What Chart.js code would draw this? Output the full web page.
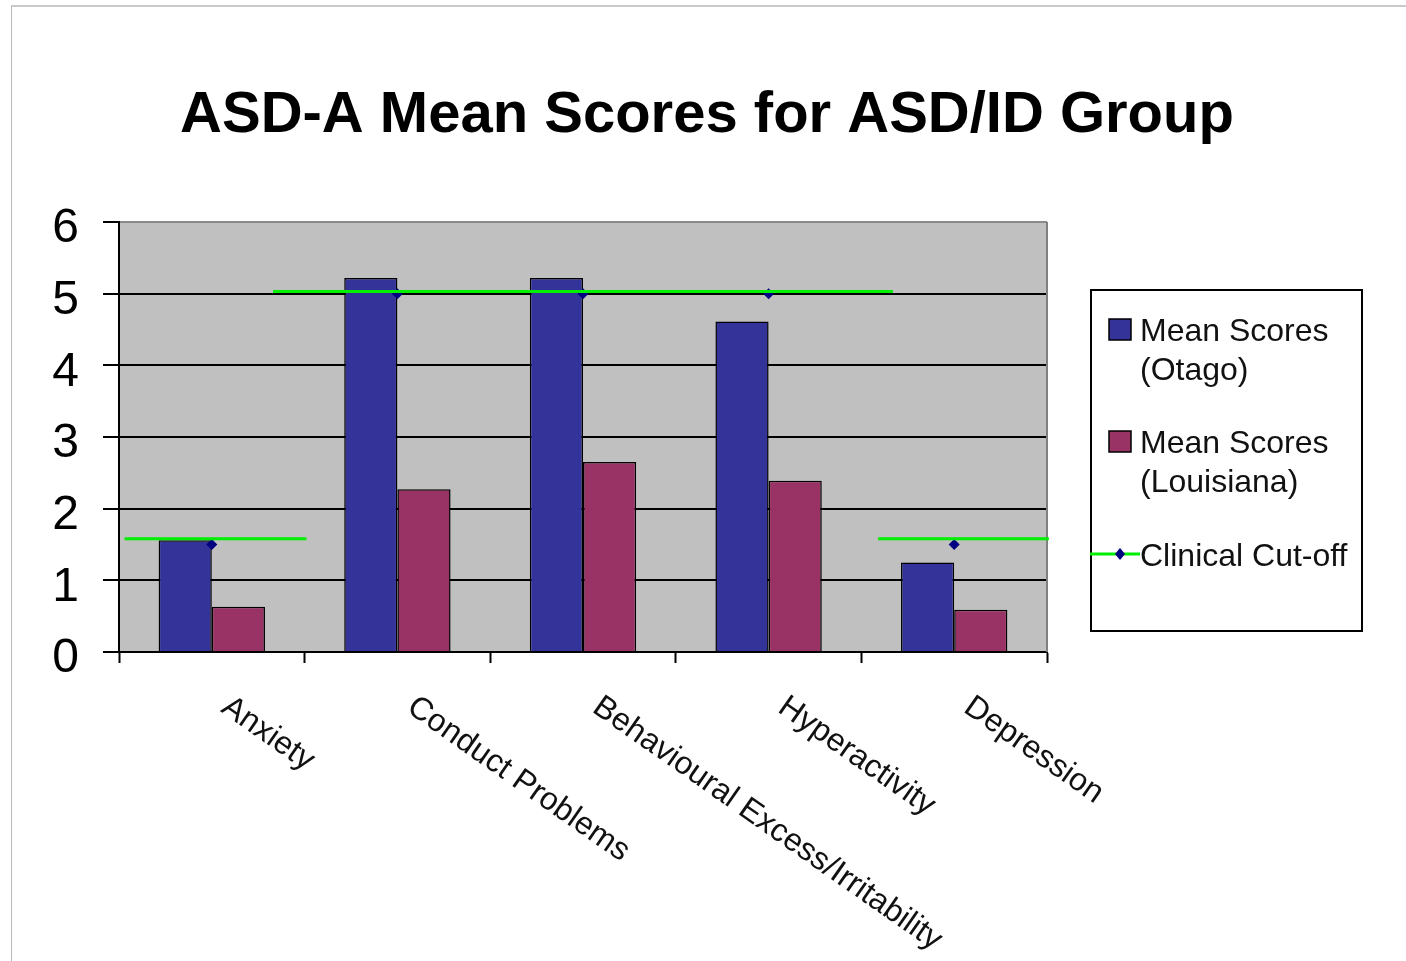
<!DOCTYPE html>
<html>
<head>
<meta charset="utf-8">
<script src="https://cdn.jsdelivr.net/npm/chart.js@4/dist/chart.umd.min.js"></script>
<style>
  html, body { margin: 0; padding: 0; background: #fff; }
  #frame { position: absolute; left: 11px; top: 5px; width: 1400px; height: 960px;
           border-left: 1px solid #b9b9b9; border-top: 2px solid #cacaca; }
  #wrap { position: absolute; left: 0; top: 0; width: 1406px; height: 961px; }
</style>
</head>
<body>
<div id="frame"></div>
<div id="wrap"><canvas id="c" width="1406" height="961"></canvas></div>
<script>
// ---- data ----
const chartTitle = 'ASD-A Mean Scores for ASD/ID Group';
const categories = ['Anxiety', 'Conduct Problems', 'Behavioural Excess/Irritability', 'Hyperactivity', 'Depression'];
const otagoScores = [1.56, 5.22, 5.22, 4.61, 1.25];
const louisianaScores = [0.63, 2.27, 2.65, 2.39, 0.59];
const cutoffScores = [1.5, 5, 5, 5, 1.5];
const yTickValues = [0, 1, 2, 3, 4, 5, 6];
const seriesNames = ['Mean Scores (Otago)', 'Mean Scores (Louisiana)', 'Clinical Cut-off'];
const legendLines = [['Mean Scores', '(Otago)'], ['Mean Scores', '(Louisiana)'], ['Clinical Cut-off']];
// green cut-off guide lines (category-index range and value)
const guideFrom = [-0.47, 0.33, 3.59];
const guideTo = [0.51, 3.67, 4.51];
const guideValue = [1.58, 5.03, 1.58];

const FONT = "'Liberation Sans', Arial, sans-serif";
const NAVY = '#333399', MAROON = '#993366', GREEN = '#00ee00', DIAMOND = '#000080';

const styling = {
  id: 'styling',
  beforeDraw(chart) {
    const { ctx, chartArea: a } = chart;
    ctx.save();
    ctx.fillStyle = '#c0c0c0';
    ctx.fillRect(a.left, a.top, a.right - a.left, a.bottom - a.top);
    ctx.restore();
  },
  beforeDatasetsDraw(chart) {
    const { ctx, chartArea: a } = chart;
    ctx.save();
    ctx.strokeStyle = '#808080';
    ctx.lineWidth = 2;
    ctx.beginPath();
    ctx.moveTo(a.right, a.top);
    ctx.lineTo(a.right, a.bottom);
    ctx.stroke();
    ctx.restore();
  },
  afterDatasetsDraw(chart) {
    const { ctx } = chart;
    const xs = chart.scales.x, ys = chart.scales.y;
    ctx.save();
    ctx.strokeStyle = GREEN;
    ctx.lineWidth = 3;
    for (let i = 0; i < guideValue.length; i++) {
      const y = ys.getPixelForValue(guideValue[i]);
      ctx.beginPath();
      ctx.moveTo(xs.getPixelForValue(guideFrom[i]), y);
      ctx.lineTo(xs.getPixelForValue(guideTo[i]), y);
      ctx.stroke();
    }
    ctx.restore();
  },
  afterDraw(chart) {
    const { ctx } = chart;
    const xs = chart.scales.x;
    ctx.save();
    // title
    ctx.fillStyle = '#000';
    ctx.font = 'bold 58px ' + FONT;
    ctx.textAlign = 'center';
    ctx.textBaseline = 'alphabetic';
    ctx.fillText(chartTitle, 707, 131.5);
    // rotated category labels
    ctx.font = '32px ' + FONT;
    ctx.textAlign = 'left';
    ctx.fillStyle = '#111';
    categories.forEach((c, i) => {
      const x = xs.getPixelForValue(i);
      ctx.save();
      ctx.translate(x + 8, 711);
      ctx.rotate(35 * Math.PI / 180);
      ctx.fillText(c, 0, 0);
      ctx.restore();
    });
    // legend
    ctx.fillStyle = '#fff';
    ctx.fillRect(1091, 290, 271, 341);
    ctx.strokeStyle = '#000';
    ctx.lineWidth = 2;
    ctx.strokeRect(1091, 290, 271, 341);
    ctx.font = '32px ' + FONT;
    ctx.fillStyle = '#111';
    const swatchColors = [NAVY, MAROON];
    const swatchTop = [319, 431];
    const textBase = [341, 453];
    for (let k = 0; k < 2; k++) {
      ctx.fillStyle = swatchColors[k];
      ctx.fillRect(1109, swatchTop[k], 22, 21);
      ctx.lineWidth = 1.5;
      ctx.strokeStyle = '#000';
      ctx.strokeRect(1109, swatchTop[k], 22, 21);
      ctx.fillStyle = '#111';
      legendLines[k].forEach((t, j) => ctx.fillText(t, 1140, textBase[k] + j * 39));
    }
    ctx.strokeStyle = GREEN;
    ctx.lineWidth = 3;
    ctx.beginPath();
    ctx.moveTo(1090, 554);
    ctx.lineTo(1140, 554);
    ctx.stroke();
    ctx.fillStyle = DIAMOND;
    ctx.beginPath();
    ctx.moveTo(1120, 548); ctx.lineTo(1125, 554); ctx.lineTo(1120, 560); ctx.lineTo(1115, 554);
    ctx.closePath();
    ctx.fill();
    ctx.fillStyle = '#111';
    ctx.fillText(legendLines[2][0], 1140, 566);
    ctx.restore();
  }
};

new Chart(document.getElementById('c'), {
  type: 'bar',
  data: {
    labels: categories,
    datasets: [
      { label: seriesNames[0], data: otagoScores, backgroundColor: NAVY, borderColor: '#000',
        borderWidth: 1.5, categoryPercentage: 0.573, barPercentage: 1, order: 2 },
      { label: seriesNames[1], data: louisianaScores, backgroundColor: MAROON, borderColor: '#000',
        borderWidth: 1.5, categoryPercentage: 0.573, barPercentage: 1, order: 3 },
      { type: 'line', label: seriesNames[2], data: cutoffScores, showLine: false,
        pointStyle: 'rectRot', pointRadius: 5.5, pointBorderWidth: 0,
        backgroundColor: DIAMOND, borderColor: DIAMOND, order: 1 }
    ]
  },
  options: {
    responsive: false,
    animation: false,
    events: [],
    layout: { padding: { left: 0, top: 222, right: 359, bottom: 0 } },
    plugins: { legend: { display: false }, title: { display: false }, tooltip: { enabled: false } },
    scales: {
      x: {
        grid: { offset: true, drawOnChartArea: false, drawTicks: true, tickLength: 11, tickColor: '#000', tickWidth: 2 },
        border: { color: '#000', width: 2 },
        ticks: { display: false },
        afterFit(s) { s.height = 309; }
      },
      y: {
        min: 0, max: 6,
        afterBuildTicks(s) { s.ticks = yTickValues.map(v => ({ value: v })); },
        ticks: { font: { size: 48, family: FONT }, color: '#000', padding: 24, labelOffset: 7 },
        grid: { color: c => (c.tick && c.tick.value === 6) ? '#8a8a8a' : '#000', lineWidth: 2, tickLength: 16, tickColor: '#000' },
        border: { color: '#000', width: 2 },
        afterFit(s) { s.width = 119; }
      }
    }
  },
  plugins: [styling]
});
</script>
</body>
</html>
